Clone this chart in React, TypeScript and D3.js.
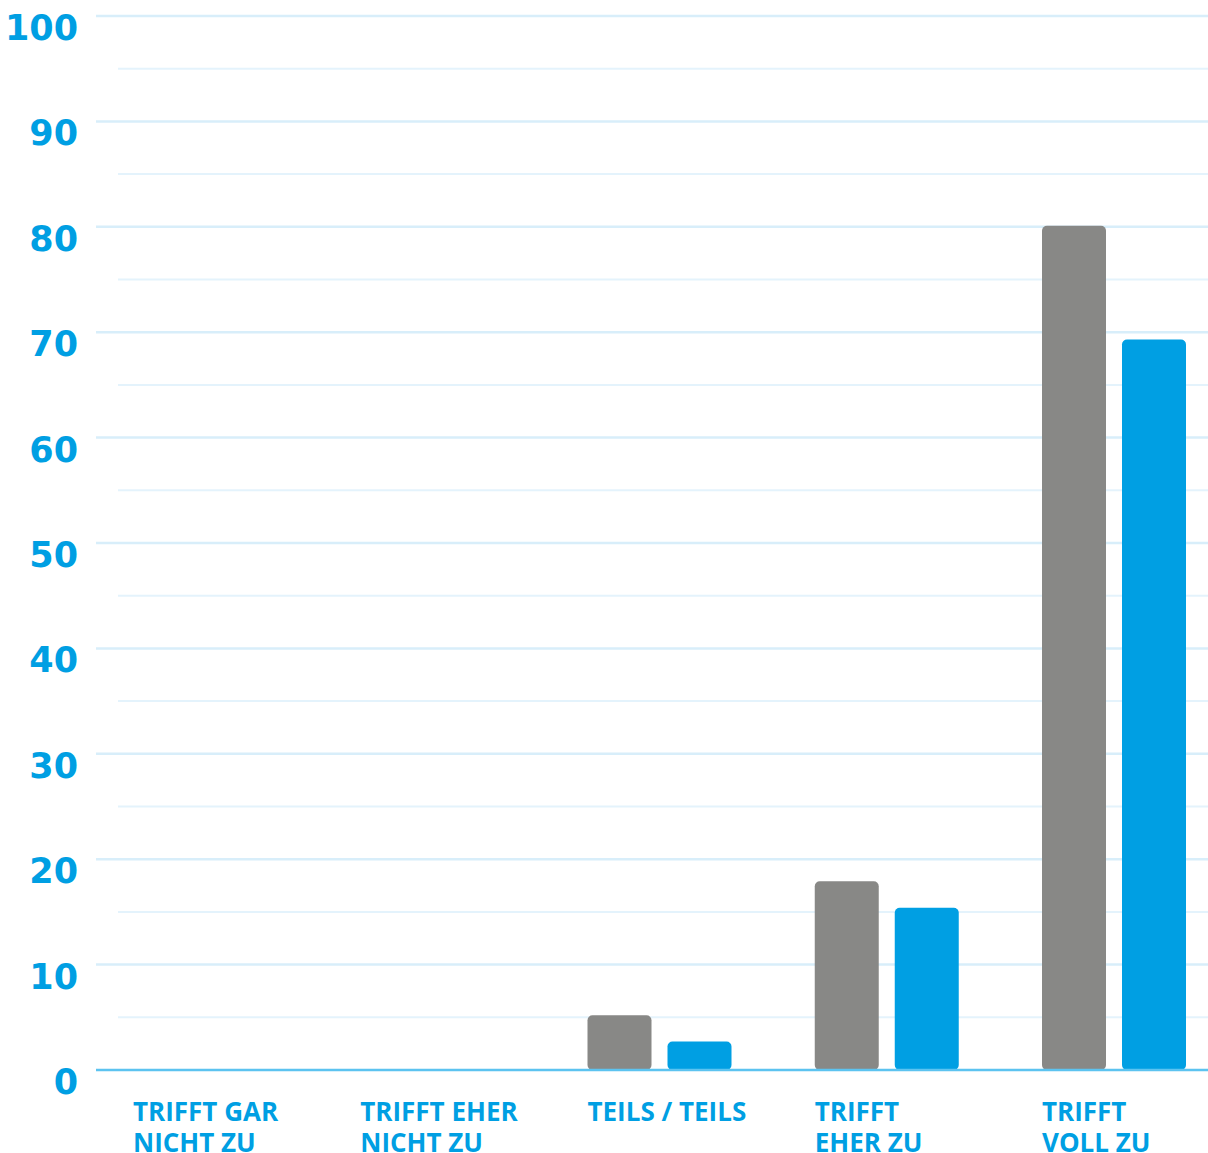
import React from "react";
import * as d3 from "d3";

const categories: string[][] = [
  ["TRIFFT GAR", "NICHT ZU"],
  ["TRIFFT EHER", "NICHT ZU"],
  ["TEILS / TEILS"],
  ["TRIFFT", "EHER ZU"],
  ["TRIFFT", "VOLL ZU"],
];
const seriesGray: number[] = [0, 0, 5.2, 17.9, 80.1];
const seriesBlue: number[] = [0, 0, 2.7, 15.4, 69.3];
const majorTicks: number[] = [0, 10, 20, 30, 40, 50, 60, 70, 80, 90, 100];
const minorTicks: number[] = [5, 15, 25, 35, 45, 55, 65, 75, 85, 95];

const W = 1208;
const H = 1153;
const BLUE = "#009fe3";
const GRAY = "#888886";

export default function App() {
  const y = d3.scaleLinear().domain([0, 100]).range([1070, 16]);
  const keys = categories.map((c) => c.join(" "));
  const x = d3
    .scaleBand<string>()
    .domain(keys)
    .range([133, 133 + 4 * 227.25 + 144])
    .paddingInner(1 - 144 / 227.25)
    .paddingOuter(0);
  const xs = d3
    .scaleBand<string>()
    .domain(["gray", "blue"])
    .range([0, x.bandwidth()])
    .paddingInner(0.2)
    .paddingOuter(0);

  const series = [
    { key: "gray", values: seriesGray, color: GRAY },
    { key: "blue", values: seriesBlue, color: BLUE },
  ];

  return (
    <svg
      width={W}
      height={H}
      style={{ position: "absolute", left: 0, top: 0, display: "block" }}
    >
      <rect x={0} y={0} width={W} height={H} fill="#ffffff" />
      {minorTicks.map((t) => (
        <line key={"m" + t} x1={118} x2={W} y1={y(t)} y2={y(t)} stroke="#e4f3fc" strokeWidth={2} />
      ))}
      {majorTicks.filter((t) => t !== 0).map((t) => (
        <line key={"g" + t} x1={96} x2={W} y1={y(t)} y2={y(t)} stroke="#d8eefa" strokeWidth={2.5} />
      ))}
      {majorTicks.map((t) => (
        <text
          key={"t" + t}
          x={78}
          y={y(t) + 24}
          textAnchor="end"
          fill={BLUE}
          fontFamily="'DejaVu Sans', sans-serif"
          fontWeight={700}
          fontSize={35}
        >
          {t}
        </text>
      ))}
      {series.map((s) =>
        keys.map((k, i) => {
          const v = s.values[i];
          if (v <= 0) return null;
          const bx = (x(k) ?? 0) + (xs(s.key) ?? 0);
          return (
            <rect
              key={s.key + k}
              x={bx}
              y={y(v)}
              width={xs.bandwidth()}
              height={y(0) - y(v)}
              rx={5}
              ry={5}
              fill={s.color}
            />
          );
        })
      )}
      <line x1={96} x2={W} y1={y(0)} y2={y(0)} stroke="#5cc3f0" strokeWidth={2.5} />
      {categories.map((lines, i) => (
        <text
          key={"c" + i}
          x={x(keys[i])}
          y={1121}
          fill={BLUE}
          fontFamily="'Open Sans', sans-serif"
          fontWeight={700}
          fontSize={26}
        >
          {lines.map((l, j) => (
            <tspan key={j} x={x(keys[i])} dy={j === 0 ? 0 : 31}>
              {l}
            </tspan>
          ))}
        </text>
      ))}
    </svg>
  );
}
